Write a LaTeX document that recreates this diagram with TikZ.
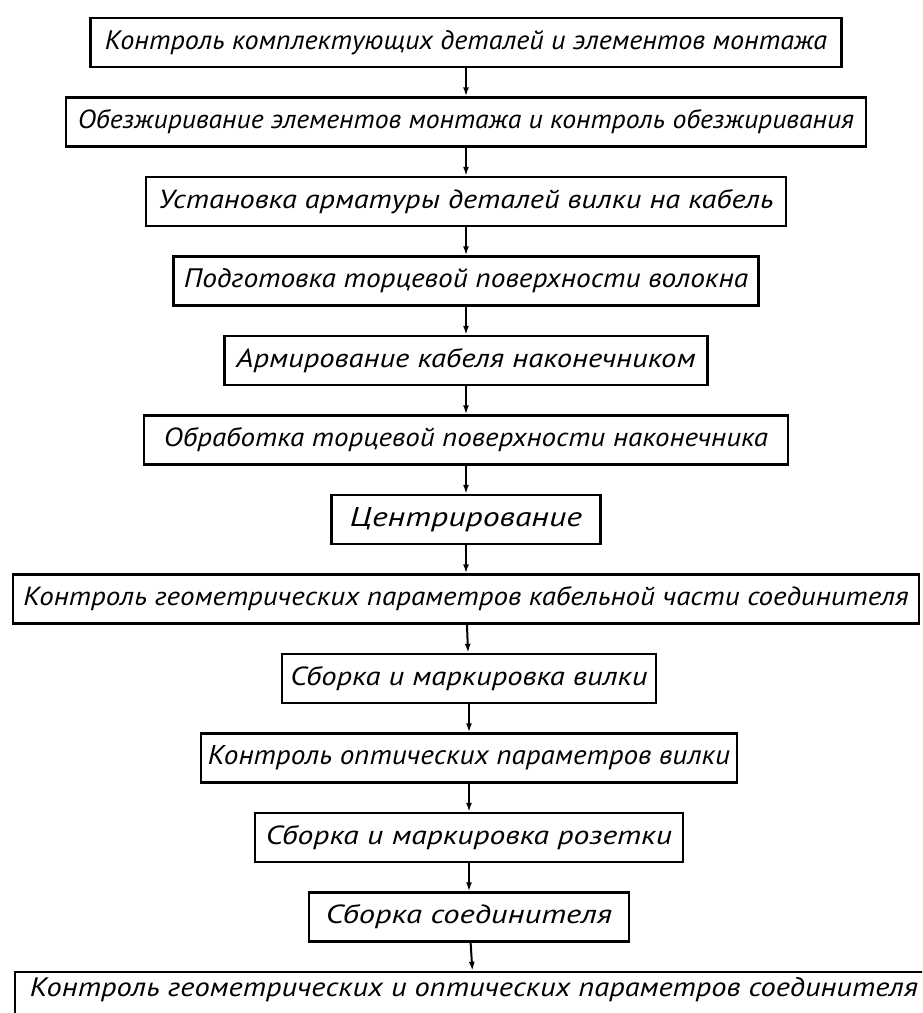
\documentclass[tikz,border=0pt]{standalone}
\usepackage{fontspec}
\setmainfont{PT Sans}
\usepackage{graphicx}
\usepackage{tikz}
\usetikzlibrary{positioning,arrows.meta}

\newcommand{\fitlbl}[2]{\resizebox{#1}{19pt}{\itshape #2}}

\begin{document}
\begin{tikzpicture}[x=1pt,y=-1pt,node distance=28.1pt,
    stage/.style={draw,line width=2.4pt,minimum height=49pt,inner sep=0pt},
    >={Latex[length=9pt,width=6pt]}]
  \useasboundingbox (0,0) rectangle (922,1013);
  \clip (0,0) rectangle (922,1013);
  \node[stage,minimum width=751pt] (komp) at (466,42.5) {\fitlbl{722pt}{Контроль комплектующих деталей и элементов монтажа}};
  \node[stage,minimum width=800pt] (obez) [below=of komp] {\fitlbl{776pt}{Обезжиривание элементов монтажа и контроль обезжиривания}};
  \node[stage,minimum width=640pt] (ustan) [below=of obez] {\fitlbl{615pt}{Установка арматуры деталей вилки на кабель}};
  \node[stage,minimum width=585pt] (podg) [below=of ustan] {\fitlbl{564pt}{Подготовка торцевой поверхности волокна}};
  \node[stage,minimum width=483pt] (armir) [below=of podg] {\fitlbl{459pt}{Армирование кабеля наконечником}};
  \node[stage,minimum width=644pt] (obrab) [below=of armir] {\fitlbl{604pt}{Обработка торцевой поверхности наконечника}};
  \node[stage,minimum width=269pt] (centr) [below=of obrab] {\fitlbl{232pt}{Центрирование}};
  \node[stage,minimum width=906pt] (kgeom) [below=of centr] {\fitlbl{885pt}{Контроль геометрических параметров кабельной части соединителя}};
  \node[stage,minimum width=374pt] (sbvil) [below=of kgeom,xshift=3pt] {\fitlbl{357pt}{Сборка и маркировка вилки}};
  \node[stage,minimum width=536pt] (kopt) [below=of sbvil] {\fitlbl{522pt}{Контроль оптических параметров вилки}};
  \node[stage,minimum width=428pt] (sbroz) [below=of kopt] {\fitlbl{406pt}{Сборка и маркировка розетки}};
  \node[stage,minimum width=320pt] (sbsoed) [below=of sbroz] {\fitlbl{286pt}{Сборка соединителя}};
  % last box runs off the page, its text sits high
  \node[stage,minimum width=918pt] (kitog) [below=of sbsoed,xshift=5pt] {\raisebox{7pt}[\height][\depth]{\fitlbl{888pt}{Контроль геометрических и оптических параметров соединителя}}};

  \draw [->,line width=2pt] (komp) to (obez);
  \draw [->,line width=2pt] (obez) to (ustan);
  \draw [->,line width=2pt] (ustan) to (podg);
  \draw [->,line width=2pt] (podg) to (armir);
  \draw [->,line width=2pt] (armir) to (obrab);
  \draw [->,line width=2pt] (obrab) to (centr);
  \draw [->,line width=2pt] (centr) to (kgeom);
  \draw [->,line width=2pt] (kgeom) to (sbvil);
  \draw [->,line width=2pt] (sbvil) to (kopt);
  \draw [->,line width=2pt] (kopt) to (sbroz);
  \draw [->,line width=2pt] (sbroz) to (sbsoed);
  \draw [->,line width=2pt] (sbsoed) to (kitog);
\end{tikzpicture}
\end{document}
